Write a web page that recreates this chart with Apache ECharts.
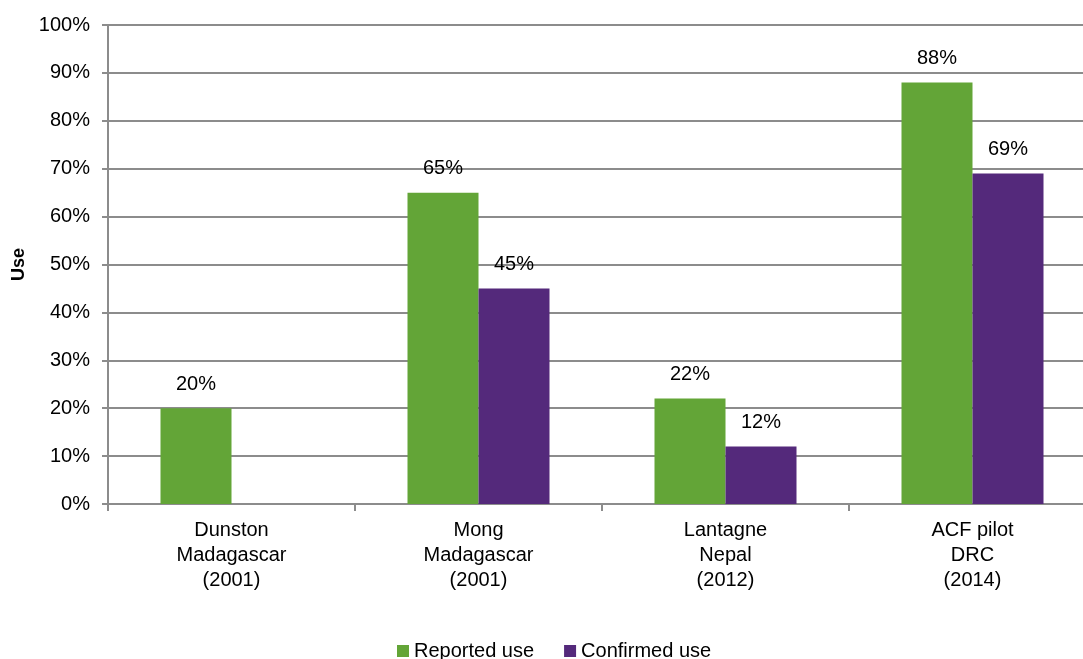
<!DOCTYPE html>
<html>
<head>
<meta charset="utf-8">
<script src="https://cdn.jsdelivr.net/npm/echarts@6/dist/echarts.min.js"></script>
<style>
  html, body { margin: 0; padding: 0; background: #fff; }
  #main { width: 1083px; height: 659px; }
</style>
</head>
<body>
<div id="main"></div>
<script>
// data
var categories = [
  "Dunston\nMadagascar\n(2001)",
  "Mong\nMadagascar\n(2001)",
  "Lantagne\nNepal\n(2012)",
  "ACF pilot\nDRC\n(2014)"
];
var reportedUse = [20, 65, 22, 88];
var confirmedUse = [null, 45, 12, 69];

var myChart = echarts.init(document.getElementById("main"));

var font = "Liberation Sans, Arial, sans-serif";
var gridGray = "#8c8c8c";

var labelStyle = {
  show: true,
  position: "top",
  distance: 14,
  formatter: "{c}%",
  fontSize: 20,
  color: "#000",
  fontFamily: font
};

var option = {
  animation: false,
  textStyle: { fontFamily: font },
  grid: {
    left: 108,
    top: 25,
    width: 988,
    height: 479,
    outerBoundsMode: "none"
  },
  legend: {
    left: 392,
    top: 636,
    itemWidth: 12,
    itemHeight: 12,
    itemGap: 30,
    icon: "rect",
    textStyle: { fontSize: 20, color: "#000", fontFamily: font },
    data: ["Reported use", "Confirmed use"]
  },
  xAxis: {
    type: "category",
    data: categories,
    axisLine: { lineStyle: { color: gridGray, width: 2 } },
    axisTick: { show: true, length: 7, lineStyle: { color: gridGray, width: 2 } },
    axisLabel: {
      fontSize: 20,
      color: "#000",
      lineHeight: 25,
      margin: 14,
      fontFamily: font
    }
  },
  yAxis: {
    type: "value",
    min: 0,
    max: 100,
    interval: 10,
    name: "Use",
    nameLocation: "middle",
    nameGap: 80,
    nameTextStyle: { fontSize: 18, fontWeight: "bold", color: "#000", fontFamily: font },
    axisLine: { show: true, lineStyle: { color: gridGray, width: 2 } },
    axisTick: { show: true, length: 6, lineStyle: { color: gridGray, width: 2 } },
    axisLabel: {
      formatter: "{value}%",
      fontSize: 20,
      color: "#000",
      margin: 18,
      fontFamily: font
    },
    splitLine: { lineStyle: { color: gridGray, width: 2 } }
  },
  series: [
    {
      name: "Reported use",
      type: "bar",
      data: reportedUse,
      barWidth: 71,
      barGap: "0%",
      itemStyle: { color: "#63a537" },
      label: labelStyle
    },
    {
      name: "Confirmed use",
      type: "bar",
      data: confirmedUse,
      barWidth: 71,
      barGap: "0%",
      itemStyle: { color: "#54297b" },
      label: labelStyle
    }
  ]
};

myChart.setOption(option);
</script>
</body>
</html>
